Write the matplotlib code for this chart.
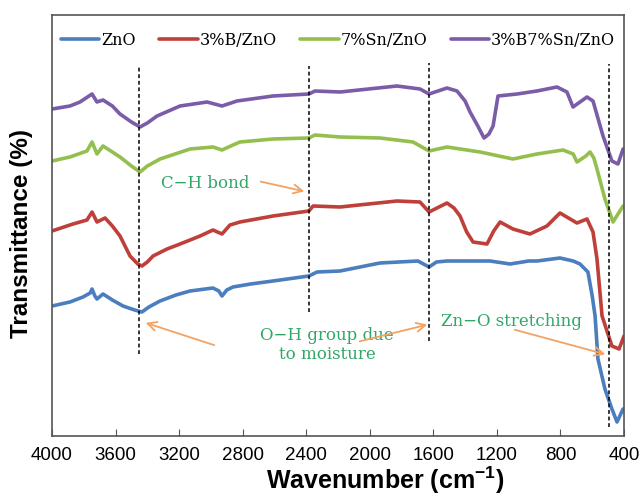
import matplotlib
matplotlib.use("Agg")
import matplotlib.pyplot as plt

# FTIR spectra, transmittance in arbitrary units (curves offset for clarity)
labels = ["ZnO", "3%B/ZnO", "7%Sn/ZnO", "3%B7%Sn/ZnO"]
colors = ["#4a7ebf", "#bf3f3a", "#94bf4f", "#7b5ca8"]

zno_wn = [4000, 3887, 3805, 3760, 3748, 3730, 3717, 3679, 3620, 3553, 3480, 3434,
          3390, 3320, 3220, 3131, 2987, 2950, 2930, 2900, 2861, 2750, 2609, 2383,
          2332, 2187, 1936, 1697, 1627, 1580, 1514, 1400, 1243, 1117, 1000, 948,
          803, 720, 677, 627, 600, 582, 564, 520, 476, 444, 406]
zno_t = [130, 134, 139, 143, 147, 140, 137, 142, 136, 130, 126, 124,
         129, 135, 141, 145, 148, 145, 140, 146, 149, 152, 155, 160,
         164, 165, 173, 175, 169, 174, 175, 175, 175, 172, 175, 175,
         178, 175, 172, 164, 140, 120, 77, 47, 27, 14, 27]

b_wn = [4000, 3868, 3780, 3748, 3717, 3666, 3620, 3572, 3509, 3460, 3434, 3400,
        3364, 3276, 3194, 3068, 2987, 2930, 2880, 2817, 2609, 2383, 2357, 2187,
        1829, 1684, 1627, 1514, 1470, 1432, 1390, 1350, 1262, 1220, 1180, 1099,
        992, 885, 803, 696, 633, 595, 570, 538, 476, 431, 400]
b_t = [205, 212, 216, 224, 214, 218, 210, 200, 180, 172, 170, 174,
       180, 187, 192, 200, 206, 202, 211, 214, 220, 225, 230, 229,
       235, 234, 224, 233, 228, 220, 204, 194, 192, 205, 214, 207,
       202, 210, 223, 213, 217, 204, 177, 120, 90, 87, 100]

sn_wn = [4000, 3887, 3780, 3748, 3717, 3679, 3620, 3572, 3500, 3446, 3400, 3320,
         3131, 2987, 2930, 2861, 2817, 2609, 2383, 2345, 2187, 1936, 1728, 1627,
         1514, 1306, 1099, 948, 784, 720, 696, 640, 614, 590, 570, 520, 469, 406]
sn_t = [275, 279, 285, 294, 282, 290, 284, 279, 270, 264, 270, 277,
        287, 289, 286, 291, 294, 297, 298, 301, 299, 298, 294, 285,
        289, 284, 277, 282, 286, 282, 274, 280, 284, 278, 267, 237, 214, 230]

bsn_wn = [4000, 3887, 3824, 3748, 3717, 3679, 3620, 3572, 3500, 3446, 3400, 3339,
          3194, 3024, 2930, 2836, 2609, 2383, 2345, 2187, 1829, 1684, 1627, 1514,
          1451, 1400, 1369, 1320, 1281, 1250, 1224, 1193, 1073, 948, 822, 759,
          721, 633, 595, 532, 476, 438, 406]
bsn_t = [327, 330, 334, 342, 334, 336, 330, 322, 314, 309, 313, 320,
         330, 334, 330, 335, 340, 342, 345, 344, 350, 347, 342, 348,
         345, 335, 324, 310, 298, 302, 310, 340, 342, 345, 349, 344,
         329, 339, 335, 300, 275, 272, 287]

# marker lines: wavenumber, bottom, top
band_wn = [3450, 2380, 1630, 495]
band_lo = [82, 124, 95, 9]
band_hi = [369, 370, 373, 372]

xticks = [4000, 3600, 3200, 2800, 2400, 2000, 1600, 1200, 800, 400]

W, H = 643, 502
fig = plt.figure(figsize=(W / 100, H / 100), dpi=100)
ax = fig.add_axes([52 / W, 1 - 437 / H, 572 / W, 421 / H])

series = [(zno_wn, zno_t), (b_wn, b_t), (sn_wn, sn_t), (bsn_wn, bsn_t)]
for (wn, t), lab, col in zip(series, labels, colors):
    ax.plot(wn, t, color=col, lw=2.6, label=lab, solid_joinstyle="round",
            solid_capstyle="round")

for wn, lo, hi in zip(band_wn, band_lo, band_hi):
    ax.plot([wn, wn], [lo, hi], color="black", lw=1.1, ls=(0, (2.5, 1.8)))

ax.set_xlim(4000, 400)
ax.set_ylim(0, 421)
ax.set_xticks(xticks)
ax.set_yticks([])
ax.tick_params(axis="x", direction="in", length=5, pad=7, labelsize=13.5,
               color="#555555")
for lbl in ax.get_xticklabels():
    lbl.set_fontfamily("Liberation Sans")
for sp in ax.spines.values():
    sp.set_color("#555555")
    sp.set_linewidth(1.2)

# axis titles sit where the original put them (x title is off-centre)
plt.rcParams["mathtext.fontset"] = "custom"
plt.rcParams["mathtext.bf"] = "Liberation Sans:bold"
fig.text(385 / W, 1 - 480 / H, r"Wavenumber (cm$^{\mathbf{-1}}$)", fontsize=18,
         fontweight="bold", family="Liberation Sans", ha="center", va="center")
fig.text(22 / W, 1 - 233 / H, "Transmittance (%)", fontsize=17.5,
         fontweight="bold", family="Liberation Sans", ha="center", va="center",
         rotation=90)

leg = ax.legend(loc="upper center", bbox_to_anchor=(0.5, 0.995), ncol=4,
                frameon=False, handlelength=2.4, handletextpad=0.1,
                columnspacing=1.5, prop={"family": "DejaVu Serif", "size": 11.5})

green = "#2fa866"
orange = "#f4a261"
tfont = dict(family="DejaVu Serif", fontsize=12, color=green, ha="center",
             va="center")
arr = dict(arrowstyle="->", color=orange, lw=1.3, mutation_scale=16)

ax.text(3037, 254, "C\u2212H bond", **tfont)
ax.annotate("", xy=(2395, 244), xytext=(2703, 255), arrowprops=arr)

ax.text(2269, 92, "O\u2212H group due\nto moisture", linespacing=1.2, **tfont)
ax.annotate("", xy=(3427, 114), xytext=(2962, 90), arrowprops=arr)
ax.annotate("", xy=(1621, 112), xytext=(2080, 94), arrowprops=arr)

ax.text(1111, 116, "Zn\u2212O stretching", **tfont)
ax.annotate("", xy=(501, 81), xytext=(1105, 107), arrowprops=arr)

fig.savefig("out.png", dpi=100)
